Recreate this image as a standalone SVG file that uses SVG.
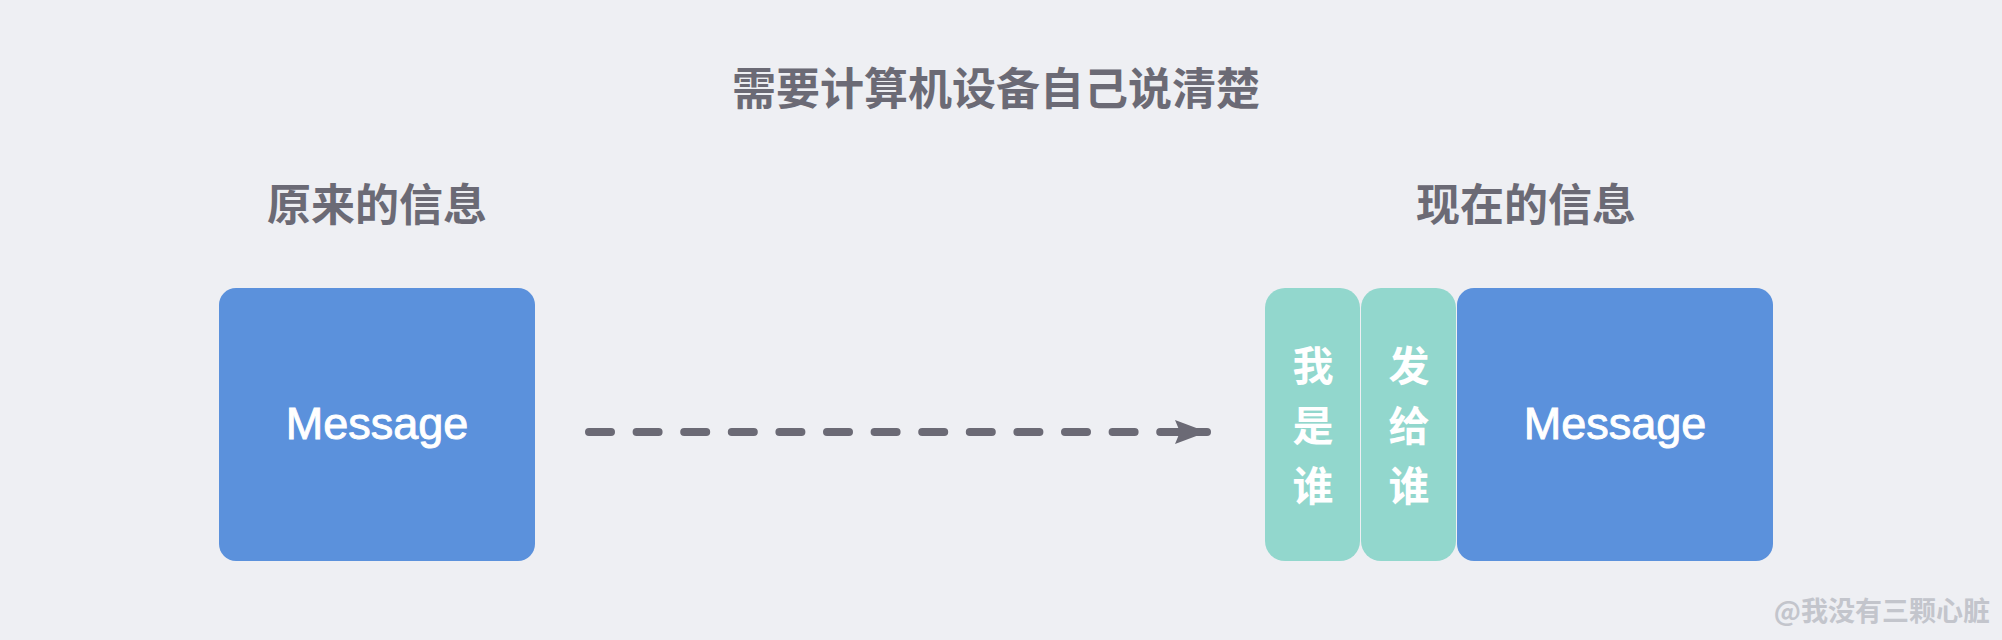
<svg xmlns="http://www.w3.org/2000/svg" width="2002" height="640" viewBox="0 0 2002 640">
<style>
.cjk{font-family:"Noto Sans CJK SC","Noto Sans",sans-serif;font-weight:700}
.title{fill:#6b6a75;font-size:44px}
.msg{font-family:"Liberation Sans",Arial,sans-serif;font-size:45px;fill:#ffffff;stroke:#ffffff;stroke-width:0.9px}
.side{fill:#ffffff;font-size:41px}
.blue{fill:#5b91dc}
.teal{fill:#92d7cd}
</style>
<defs>
<marker id="ah" markerWidth="34" markerHeight="26" refX="32" refY="13" markerUnits="userSpaceOnUse" orient="auto">
<path d="M0,1 L32,13 L0,25 L5,13 Z" fill="#6b6a75"/>
</marker>
</defs>
<rect width="2002" height="640" fill="#eeeff3"/>
<g id="title"><text class="cjk title" x="996" y="105" text-anchor="middle">需要计算机设备自己说清楚</text></g>
<g id="label-left"><text class="cjk title" x="377" y="221" text-anchor="middle">原来的信息</text></g>
<g id="label-right"><text class="cjk title" x="1526" y="221" text-anchor="middle">现在的信息</text></g>
<g id="msg-left">
<rect class="blue" x="219" y="288" width="316" height="273" rx="17"/>
<text class="msg" x="377" y="439" text-anchor="middle">Message</text>
</g>
<g id="who-am-i">
<rect class="teal" x="1265" y="288" width="95" height="273" rx="20"/>
<text class="cjk side" x="1313" y="381" text-anchor="middle">我</text>
<text class="cjk side" x="1313" y="441" text-anchor="middle">是</text>
<text class="cjk side" x="1313" y="501" text-anchor="middle">谁</text>
</g>
<g id="to-whom">
<rect class="teal" x="1361" y="288" width="95" height="273" rx="20"/>
<text class="cjk side" x="1409" y="381" text-anchor="middle">发</text>
<text class="cjk side" x="1409" y="441" text-anchor="middle">给</text>
<text class="cjk side" x="1409" y="501" text-anchor="middle">谁</text>
</g>
<g id="msg-right">
<rect class="blue" x="1457" y="288" width="316" height="273" rx="17"/>
<text class="msg" x="1615" y="439" text-anchor="middle">Message</text>
</g>
<g id="connectors">
<path d="M589,432 L1180,432" stroke="#6b6a75" stroke-width="8" stroke-linecap="round" stroke-dasharray="22 25.6" fill="none"/>
<path d="M1165,432 L1207,432" stroke="#6b6a75" stroke-width="8" stroke-linecap="round" fill="none" marker-end="url(#ah)"/>
</g>
<g id="watermark"><text class="cjk" x="1990" y="621" text-anchor="end" font-size="27" fill="#c3c5cc">@我没有三颗心脏</text></g>
</svg>
